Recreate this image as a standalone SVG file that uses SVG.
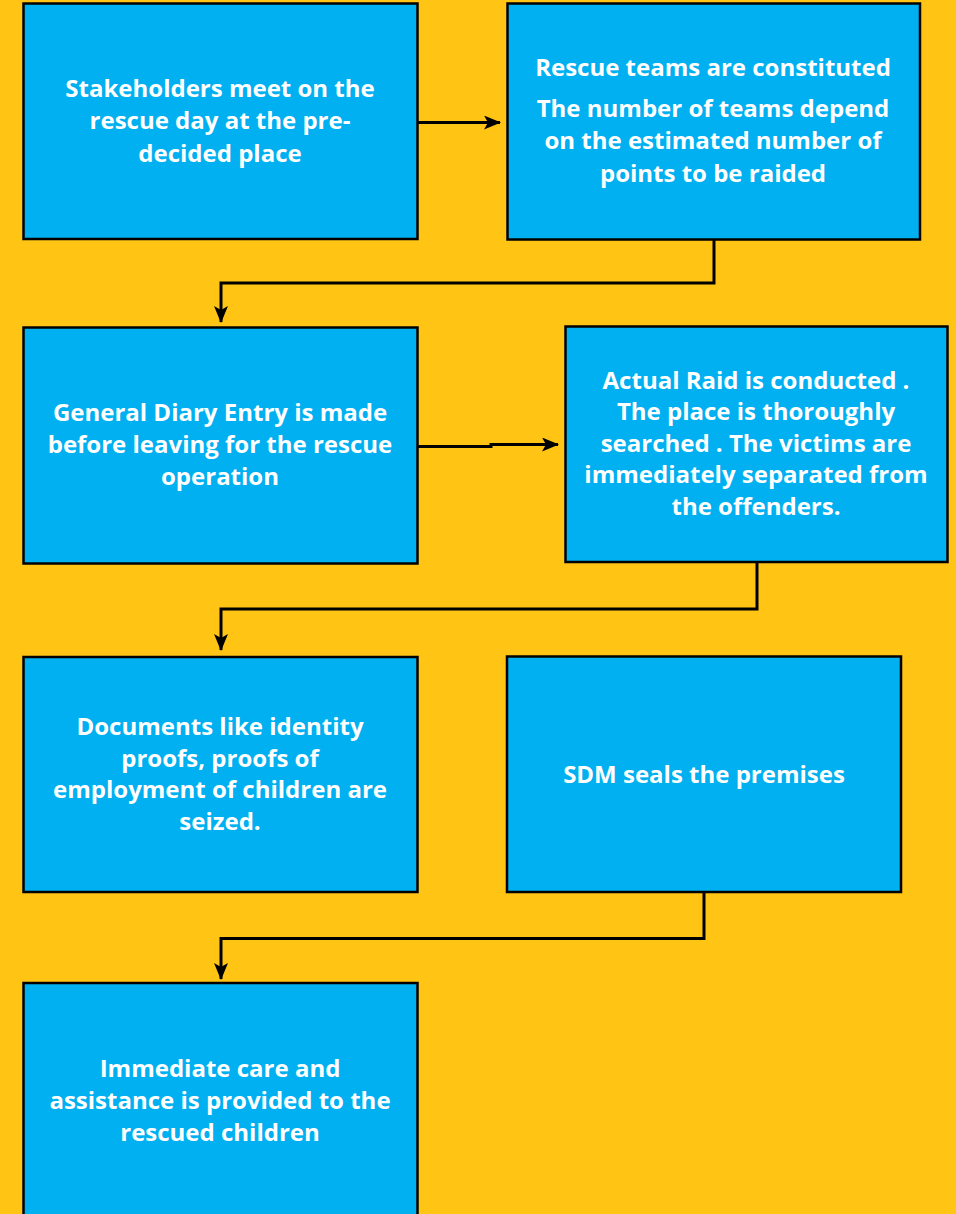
<svg xmlns="http://www.w3.org/2000/svg" width="956" height="1214" viewBox="0 0 956 1214">
<defs>
<style>
.box{fill:#00B0F0;stroke:#000;stroke-width:2.5}
.t{font-family:"Open Sans","Liberation Sans",sans-serif;font-weight:bold;font-size:24px;fill:#fff;text-anchor:middle}
.c{fill:none;stroke:#000;stroke-width:3}
</style>
<marker id="ah" viewBox="0 0 17 14" refX="16" refY="7" markerWidth="17" markerHeight="14" markerUnits="userSpaceOnUse" orient="auto">
<path d="M0,0 L17,7 L0,14 L4,7 Z" fill="#000"/>
</marker>
</defs>
<rect width="956" height="1214" fill="#FFC414"/>
<g id="connectors">
<path class="c" d="M418,122.5 H500" marker-end="url(#ah)"/>
<path class="c" d="M714,240 V283 H221 V322" marker-end="url(#ah)"/>
<path class="c" d="M418,446.5 H491 V444.5 H558" marker-end="url(#ah)"/>
<path class="c" d="M757,562 V609 H221 V650" marker-end="url(#ah)"/>
<path class="c" d="M704,892 V938.5 H221 V979" marker-end="url(#ah)"/>
</g>
<g id="n1">
<rect class="box" x="23.5" y="3.5" width="394" height="235.5"/>
<text class="t" x="220" y="97">Stakeholders meet on the</text>
<text class="t" x="220" y="129">rescue day at the pre-</text>
<text class="t" x="220" y="162">decided place</text>
</g>
<g id="n2">
<rect class="box" x="507.5" y="3.5" width="412.5" height="236"/>
<text class="t" x="713" y="76">Rescue teams are constituted</text>
<text class="t" x="713" y="117">The number of teams depend</text>
<text class="t" x="713" y="149">on the estimated number of</text>
<text class="t" x="713" y="182">points to be raided</text>
</g>
<g id="n3">
<rect class="box" x="23.5" y="327.5" width="394" height="236"/>
<text class="t" x="220" y="421">General Diary Entry is made</text>
<text class="t" x="220" y="453">before leaving for the rescue</text>
<text class="t" x="220" y="485">operation</text>
</g>
<g id="n4">
<rect class="box" x="565.5" y="326.5" width="382" height="235.5"/>
<text class="t" x="756" y="389">Actual Raid is conducted .</text>
<text class="t" x="756" y="420">The place is thoroughly</text>
<text class="t" x="756" y="452">searched . The victims are</text>
<text class="t" x="756" y="483">immediately separated from</text>
<text class="t" x="756" y="515">the offenders.</text>
</g>
<g id="n5">
<rect class="box" x="23.5" y="657" width="394" height="235"/>
<text class="t" x="220" y="735">Documents like identity</text>
<text class="t" x="220" y="767">proofs, proofs of</text>
<text class="t" x="220" y="798">employment of children are</text>
<text class="t" x="220" y="830">seized.</text>
</g>
<g id="n6">
<rect class="box" x="507" y="656.5" width="394" height="235.5"/>
<text class="t" x="704" y="783">SDM seals the premises</text>
</g>
<g id="n7">
<rect class="box" x="23.5" y="983" width="394" height="240"/>
<text class="t" x="220" y="1077">Immediate care and</text>
<text class="t" x="220" y="1109">assistance is provided to the</text>
<text class="t" x="220" y="1141">rescued children</text>
</g>
</svg>
